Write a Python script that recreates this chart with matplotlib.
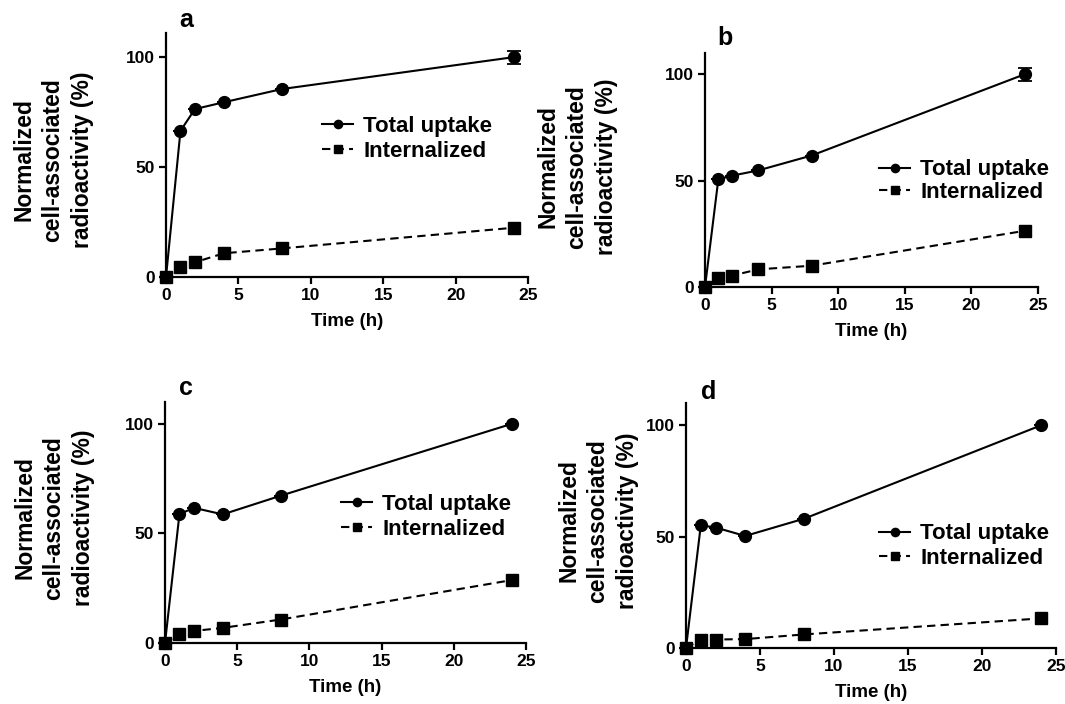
import matplotlib
matplotlib.use("Agg")
import matplotlib.pyplot as plt

plt.rcParams['font.family'] = ['Liberation Sans', 'DejaVu Sans']
plt.rcParams['font.weight'] = 'bold'

# time points (h)
times = [0, 1, 2, 4, 8, 24]

# normalized cell-associated radioactivity (%)
a_total = [0, 66.5, 76.4, 79.5, 85.5, 100]
a_total_err = [0, 0, 0, 0, 0, 3]
a_int = [0, 4.7, 6.7, 10.8, 13.0, 22.4]

b_total = [0, 50.6, 52.3, 54.8, 61.8, 100]
b_total_err = [0, 0, 0, 0, 0, 3]
b_int = [0, 4.4, 5.3, 8.3, 10.0, 26.4]

c_total = [0, 58.8, 61.7, 58.7, 67.2, 100]
c_total_err = [0, 0, 0, 0, 0, 0]
c_int = [0, 4.3, 5.5, 6.9, 10.7, 28.7]

d_total = [0, 55.1, 54.1, 50.3, 58.1, 100]
d_total_err = [0, 0, 0, 0, 0, 0]
d_int = [0, 3.8, 3.8, 4.0, 6.1, 13.3]

xticks = [0, 5, 10, 15, 20, 25]
yticks = [0, 50, 100]
ylabel = "Normalized\ncell-associated\nradioactivity (%)"

W, H = 1065, 704
fig = plt.figure(figsize=(W / 100, H / 100), dpi=100)


def px(x0, y0, x1, y1):
    # pixel box (left, top, right, bottom) -> figure fraction rect
    return [x0 / W, 1 - y1 / H, (x1 - x0) / W, (y1 - y0) / H]


panels = [
    # letter, data, axes box, ylim top, letter pos, ylabel pos, legend pos, label spacing
    ("a", a_total, a_total_err, a_int, (166, 33, 528, 277), 111, (186, 20), (53, 160), (322, 139), 0.2),
    ("b", b_total, b_total_err, b_int, (705, 53, 1038, 287), 110, (725, 38), (577, 167), (879, 181), 0.05),
    ("c", c_total, c_total_err, c_int, (165, 402, 526, 643), 110, (186, 388), (54, 518), (341, 517), 0.2),
    ("d", d_total, d_total_err, d_int, (686, 403, 1056, 648), 110, (709, 392), (598, 521), (879, 546), 0.15),
]

for letter, tot, tot_err, inte, box, ytop, lpos, ypos, legpos, lsp in panels:
    ax = fig.add_axes(px(*box))
    l1, = ax.plot(times, tot, color='black', lw=1.5, marker='o', ms=8.5,
                  clip_on=False, zorder=4, label="Total uptake")
    ax.errorbar(times, tot, yerr=tot_err, fmt='none', ecolor='black',
                capsize=5, elinewidth=1.3, capthick=1.3, clip_on=False, zorder=4)
    l2, = ax.plot(times, inte, color='black', lw=1.5, ls=(0, (4, 2.5)), marker='s', ms=8.5,
                  clip_on=False, zorder=4, label="Internalized")
    ax.set_xlim(0, 25)
    ax.set_ylim(0, ytop)
    ax.set_xticks(xticks)
    ax.set_yticks(yticks)
    for s in ['top', 'right']:
        ax.spines[s].set_visible(False)
    for s in ['left', 'bottom']:
        ax.spines[s].set_linewidth(1.6)
    ax.tick_params(direction='out', length=5, width=1.6, labelsize=12.5, pad=3)
    for t in ax.get_xticklabels() + ax.get_yticklabels():
        t.set_fontweight('bold')
    ax.set_xlabel("Time (h)", fontsize=13.5, fontweight='bold', labelpad=7)

    ax.legend([l1, l2], ["Total uptake", "Internalized"], loc='center left',
              bbox_to_anchor=(legpos[0] / W, 1 - legpos[1] / H),
              bbox_transform=fig.transFigure, frameon=False,
              handlelength=1.4, handletextpad=0.45, borderpad=0,
              borderaxespad=0, labelspacing=lsp, markerscale=0.7,
              prop={'size': 16, 'weight': 'bold'})

    fig.text(lpos[0] / W, 1 - lpos[1] / H, letter, fontsize=18, fontweight='bold',
             ha='center', va='center')
    fig.text(ypos[0] / W, 1 - ypos[1] / H, ylabel, fontsize=16.5, fontweight='bold',
             rotation=90, ha='center', va='center', multialignment='center',
             linespacing=1.35)

fig.savefig("out.png", dpi=100)
